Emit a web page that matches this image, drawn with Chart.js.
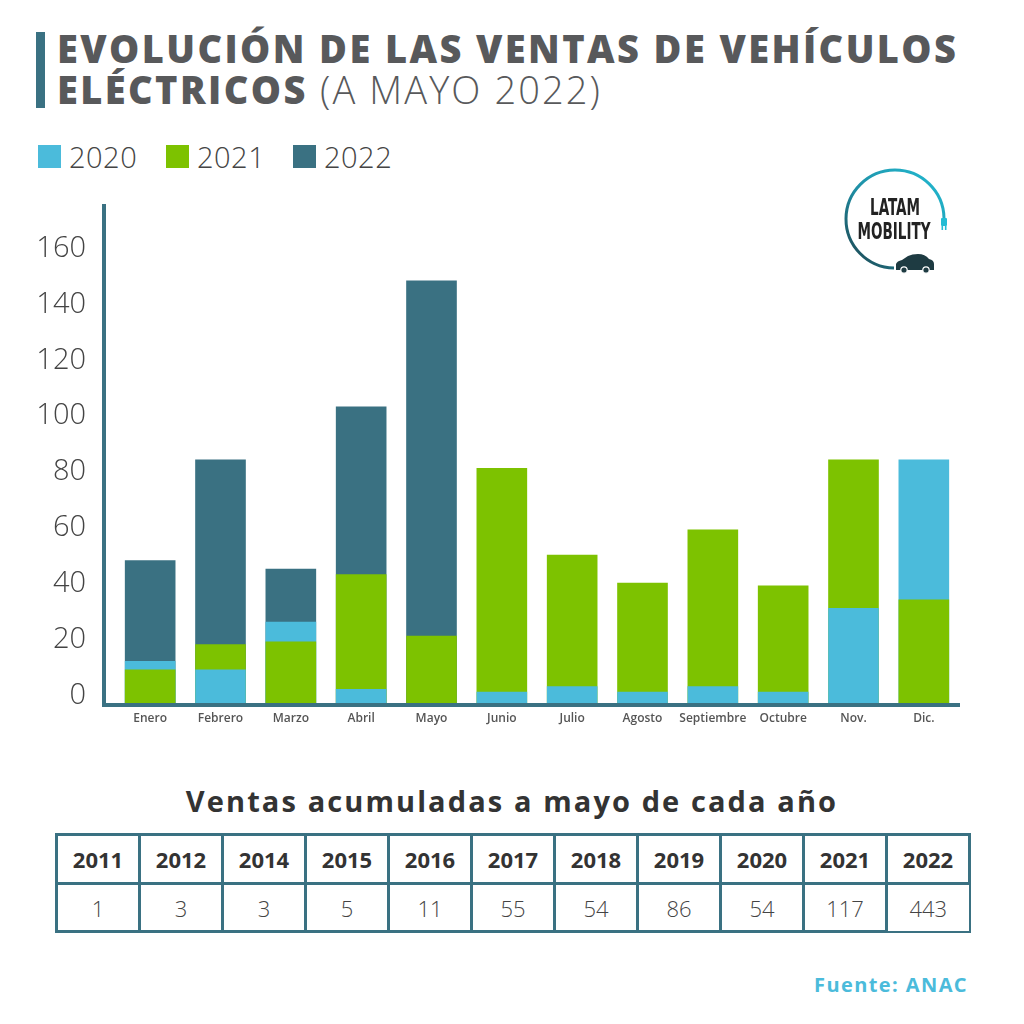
<!DOCTYPE html>
<html>
<head>
<meta charset="utf-8">
<script src="https://cdn.jsdelivr.net/npm/chart.js@4"></script>
<style>
  html, body { margin: 0; padding: 0; background: #fff; }
  body { width: 1024px; height: 1024px; position: relative; overflow: hidden; font-family: "Open Sans", sans-serif; }
  #bar { position: absolute; left: 36px; top: 32px; width: 9px; height: 76px; background: #3a7182; }
  .title { position: absolute; left: 57px; color: #58595b; font-size: 38px; line-height: 41px; font-weight: 800; white-space: nowrap; letter-spacing: 2.4px; }
  .title .light { font-weight: 300; letter-spacing: 2.1px; }
  #legend { position: absolute; left: 38px; top: 139px; height: 36px; }
  .lg { position: absolute; top: 0; white-space: nowrap; font-size: 29px; font-weight: 300; color: #444; line-height: 36px; letter-spacing: 0.5px; }
  .lg .sw { position: absolute; left: 0; top: 6px; width: 23px; height: 23px; }
  .lg .tx { position: absolute; left: 31px; top: 0; }
  #chartWrap { position: absolute; left: 0; top: 190px; width: 1024px; height: 560px; }
  #logo { position: absolute; left: 820px; top: 160px; width: 150px; height: 120px; }
  #subtitle { position: absolute; left: 0; width: 1024px; top: 783px; text-align: center; font-size: 29px; font-weight: 700; color: #333; line-height: 36px; letter-spacing: 2.1px; }
  #tbl { position: absolute; left: 55px; top: 833px; border-collapse: collapse; table-layout: fixed; }
  #tbl td { border: 3px solid #3a7182; width: 80px; text-align: center; font-size: 22px; color: #333; padding: 0; }
  #tbl tr.h td { height: 46px; font-weight: 700; }
  #tbl tr.v td { height: 45px; font-weight: 300; color: #444; }
  #tbl tr.v td:last-child { border-right-width: 2px; border-bottom-width: 2px; }
  #fuente { position: absolute; right: 56px; top: 972px; font-size: 20px; font-weight: 700; color: #4bbbdb; line-height: 26px; letter-spacing: 1.4px; }
</style>
</head>
<body>
<div id="bar"></div>
<div class="title" style="top:28px">EVOLUCIÓN DE LAS VENTAS DE VEHÍCULOS</div>
<div class="title" style="top:69px">ELÉCTRICOS <span class="light">(A MAYO 2022)</span></div>
<div id="legend"></div>
<div id="chartWrap"><canvas id="c" width="1024" height="560"></canvas></div>

<svg id="logo" viewBox="0 0 150 120" width="150" height="120">
  <defs>
    <linearGradient id="lg1" x1="1" y1="0" x2="0" y2="1">
      <stop offset="0" stop-color="#22bcd4"/>
      <stop offset="0.55" stop-color="#1f8fa5"/>
      <stop offset="1" stop-color="#1d3f48"/>
    </linearGradient>
  </defs>
  <path d="M 124 58 A 49 49 0 1 0 74 108" fill="none" stroke="url(#lg1)" stroke-width="3"/>
  <rect x="121" y="58" width="6" height="8" rx="1" fill="#22bcd4"/>
  <rect x="121.5" y="66" width="1.6" height="4" fill="#22bcd4"/>
  <rect x="124.9" y="66" width="1.6" height="4" fill="#22bcd4"/>
  <path d="M 76 110 L 76 104 Q 77 101 82 100 L 88 96 Q 92 94 98 94 Q 105 94 109 99 Q 114 100 114 104 L 114 110 Z" fill="#1e3b42"/>
  <circle cx="84" cy="110" r="3.2" fill="#1e3b42" stroke="#fff" stroke-width="1.2"/>
  <circle cx="106" cy="110" r="3.2" fill="#1e3b42" stroke="#fff" stroke-width="1.2"/>
  <text x="75" y="55" text-anchor="middle" font-family="DejaVu Sans Condensed, DejaVu Sans" font-weight="bold" font-size="23" fill="#222" textLength="50" lengthAdjust="spacingAndGlyphs">LATAM</text>
  <text x="74" y="79" text-anchor="middle" font-family="DejaVu Sans Condensed, DejaVu Sans" font-weight="bold" font-size="23" fill="#222" textLength="73" lengthAdjust="spacingAndGlyphs">MOBILITY</text>
</svg>

<div id="subtitle">Ventas acumuladas a mayo de cada año</div>
<table id="tbl"><tr class="h" id="th"></tr><tr class="v" id="tv"></tr></table>
<div id="fuente">Fuente: ANAC</div>

<script>
// ---- Data ----
const categories = ['Enero','Febrero','Marzo','Abril','Mayo','Junio','Julio','Agosto','Septiembre','Octubre','Nov.','Dic.'];
const seriesNames = ['2020','2021','2022'];
const seriesColors = ['#4bbbdb','#7dc200','#3a7182'];
const sales2020 = [15, 12, 29, 5, null, 4, 6, 4, 6, 4, 34, 87];
const sales2021 = [12, 21, 22, 46, 24, 84, 53, 43, 62, 42, 87, 37];
const sales2022 = [51, 87, 48, 106, 151, null, null, null, null, null, null, null];
const yTicks = [0, 20, 40, 60, 80, 100, 120, 140, 160];
const tableYears = ['2011','2012','2014','2015','2016','2017','2018','2019','2020','2021','2022'];
const tableValues = ['1','3','3','5','11','55','54','86','54','117','443'];

// legend
const legendX = [0, 128, 255];
const legend = document.getElementById('legend');
seriesNames.forEach((n, i) => {
  const d = document.createElement('div');
  d.className = 'lg';
  d.style.left = legendX[i] + 'px';
  d.innerHTML = '<span class="sw" style="background:' + seriesColors[i] + '"></span><span class="tx">' + n + '</span>';
  legend.appendChild(d);
});

// table
const th = document.getElementById('th'), tv = document.getElementById('tv');
tableYears.forEach(y => { const td = document.createElement('td'); td.textContent = y; th.appendChild(td); });
tableValues.forEach(v => { const td = document.createElement('td'); td.textContent = v; tv.appendChild(td); });

// draw overlapping bars: tallest first so smaller ones sit in front
const overlapPlugin = {
  id: 'overlap',
  beforeDatasetsDraw(chart) {
    const ctx = chart.ctx;
    const items = [];
    chart.data.datasets.forEach((ds, di) => {
      const meta = chart.getDatasetMeta(di);
      if (meta.hidden) return;
      meta.data.forEach((el, i) => {
        const v = ds.data[i];
        if (v == null) return;
        items.push({ el, v });
      });
    });
    items.sort((a, b) => b.v - a.v);
    ctx.save();
    items.forEach(it => it.el.draw(ctx, chart.chartArea));
    ctx.restore();
    return false;
  }
};

const axisPlugin = {
  id: 'axes',
  afterDraw(chart) {
    const ctx = chart.ctx, a = chart.chartArea;
    const vx = a.left - 11, hy = a.bottom + 2;
    ctx.save();
    ctx.strokeStyle = '#3a7182';
    ctx.lineWidth = 4;
    ctx.beginPath();
    ctx.moveTo(vx, a.top - 1);
    ctx.lineTo(vx, hy + 2);
    ctx.moveTo(vx - 2, hy);
    ctx.lineTo(a.right + 1, hy);
    ctx.stroke();
    ctx.restore();
  }
};

const datasets = [sales2020, sales2021, sales2022].map((d, i) => ({
  label: seriesNames[i],
  data: d,
  backgroundColor: seriesColors[i],
  borderWidth: 0,
  barPercentage: 0.72,
  categoryPercentage: 1.0
}));

new Chart(document.getElementById('c'), {
  type: 'bar',
  data: { labels: categories, datasets },
  options: {
    responsive: false,
    animation: false,
    layout: { padding: { left: 0, right: 65, top: 15, bottom: 0 } },
    plugins: { legend: { display: false }, tooltip: { enabled: false } },
    scales: {
      x: {
        stacked: true,
        grid: { display: false, drawTicks: false },
        border: { display: false },
        ticks: { padding: 8, color: '#555', font: { family: 'Open Sans', size: 12, weight: '600' }, maxRotation: 0, autoSkip: false },
        afterFit(s) { s.height = 47; s.paddingLeft = 0; s.paddingRight = 0; }
      },
      y: {
        stacked: false,
        min: 0,
        max: 178,
        grid: { display: false, drawTicks: false },
        border: { display: false },
        ticks: { stepSize: 20, padding: 29, labelOffset: -7, color: '#444', font: { family: 'Open Sans', size: 29, weight: '300' } },
        afterBuildTicks(s) { s.ticks = yTicks.map(v => ({ value: v })); },
        afterFit(s) { s.width = 115; s.paddingTop = 0; s.paddingBottom = 0; }
      }
    }
  },
  plugins: [overlapPlugin, axisPlugin]
});
</script>
</body>
</html>
